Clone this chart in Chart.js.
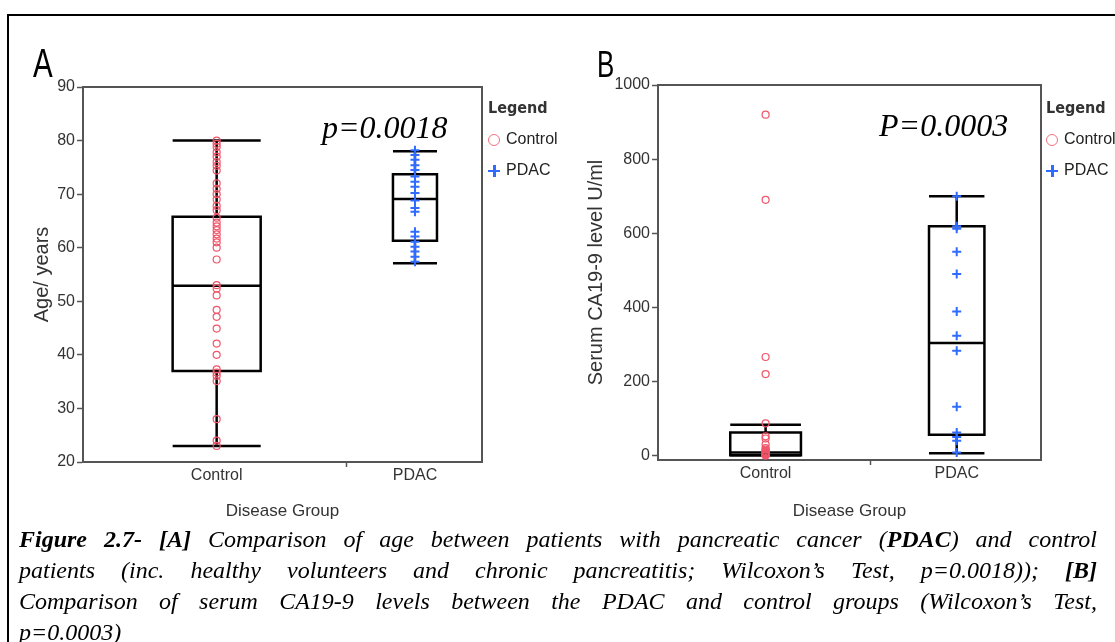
<!DOCTYPE html>
<html>
<head>
<meta charset="utf-8">
<title>Figure 2.7 - Age and serum CA19-9 by disease group</title>
<script src="https://cdn.jsdelivr.net/npm/chart.js@4.4.0/dist/chart.umd.min.js"></script>
<style>
  body { margin: 0; background: #fff; }
  #page { position: relative; width: 1115px; height: 642px; overflow: hidden; }
  #frame { position: absolute; left: 7px; top: 14px; width: 1200px; height: 700px;
           border-left: 2px solid #000; border-top: 2px solid #000; }
  canvas { position: absolute; }
  .letter { position: absolute; font-family: "Liberation Sans", Arial, sans-serif; line-height: 1;
            color: #000; transform-origin: left top; transform: scaleX(0.72); }
  .pval { position: absolute; font-family: "Liberation Serif", "Times New Roman", serif; font-style: italic;
          font-size: 32px; line-height: 32px; color: #000; white-space: nowrap; }
  .legend { position: absolute; font-family: "Liberation Sans", Arial, sans-serif; font-size: 16px;
            line-height: 31px; color: #222; white-space: nowrap; }
  .legend .head { font-family: "DejaVu Sans Condensed", "DejaVu Sans", sans-serif; font-weight: bold; color: #333; }
  .sym { display: inline-block; width: 12px; height: 12px; vertical-align: middle; margin-right: 6px; position: relative; }
  .sym.circle { box-sizing: border-box; border: 1.5px solid #f07080; border-radius: 50%; }
  .sym.plus::before, .sym.plus::after { content: ""; position: absolute; background: #2f6bff; }
  .sym.plus::before { left: 0; top: 5px; width: 12px; height: 2.5px; }
  .sym.plus::after { left: 5px; top: 0; width: 2.5px; height: 12px; }
  #caption { position: absolute; left: 19px; top: 524px; width: 1078px; font-family: "Liberation Serif", "Times New Roman", serif;
             font-style: italic; font-size: 24px; line-height: 31px; color: #000; }
  #caption div { text-align: justify; text-align-last: justify; white-space: nowrap; }
  #caption div.last { text-align-last: left; }
</style>
</head>
<body>
<div id="page">
  <div id="frame"></div>
  <canvas id="chartA" width="550" height="505" style="left:10px; top:20px;"></canvas>
  <canvas id="chartB" width="540" height="505" style="left:565px; top:20px;"></canvas>

  <div class="letter" style="left:33px; top:43px; font-size:41px;">A</div>
  <div class="letter" style="left:597px; top:47px; font-size:36px;">B</div>

  <div class="pval" style="left:322px; top:111px;">p=0.0018</div>
  <div class="pval" style="left:879px; top:109px;">P=0.0003</div>

  <div class="legend" style="left:488px; top:92px;">
    <div class="head">Legend</div>
    <div><span class="sym circle"></span>Control</div>
    <div><span class="sym plus"></span>PDAC</div>
  </div>
  <div class="legend" style="left:1046px; top:92px;">
    <div class="head">Legend</div>
    <div><span class="sym circle"></span>Control</div>
    <div><span class="sym plus"></span>PDAC</div>
  </div>

  <div id="caption">
    <div><b>Figure 2.7- [A]</b> Comparison of age between patients with pancreatic cancer (<b>PDAC</b>) and control</div>
    <div>patients (inc. healthy volunteers and chronic pancreatitis; Wilcoxon’s Test, p=0.0018)); <b>[B]</b></div>
    <div>Comparison of serum CA19-9 levels between the PDAC and control groups (Wilcoxon’s Test,</div>
    <div class="last">p=0.0003)</div>
  </div>
</div>

<script>
  // groups on the x axis
  var categories = ['Control', 'PDAC'];

  // panel A: age (years), individual patients
  var ageControl = [80, 79.4, 78.8, 77.8, 77, 76, 75.3, 74.4, 72, 71, 70, 69, 67.8, 67, 65.6, 64.7, 64, 63.3,
                    62.5, 61.7, 61, 60, 57.8, 53, 52.4, 51.1, 48.4, 47.1, 44.9, 42.1, 40, 37.3, 36.7, 36.1,
                    35.1, 28, 24, 23];
  var agePdac = [78.2, 77.3, 76.4, 75.4, 74.5, 73.3, 72.3, 71.4, 70.2, 68.8, 67.4, 66.7, 63, 62.1, 61.1,
                 60.2, 59.3, 58.3, 57.4];
  // box summaries: [min, q1, median, q3, max]
  var ageControlBox = [23, 37, 52.9, 65.8, 80];
  var agePdacBox = [57.1, 61.3, 69.1, 73.7, 78];
  var ageTicks = [20, 30, 40, 50, 60, 70, 80, 90];

  // panel B: serum CA19-9 (U/ml)
  var caControl = [920, 690, 266, 220, 87, 52, 46, 30, 20, 16, 12, 9, 7, 5, 4, 3, 2, 1, 0];
  var caPdac = [700, 619, 612, 550, 490, 389, 323, 283, 132, 62, 50, 40, 8];
  var caControlBox = [0, 1, 8, 62, 83];
  var caPdacBox = [6, 56, 304, 619, 700];
  var caTicks = [0, 200, 400, 600, 800, 1000];

  var sans = '"Liberation Sans", Arial, sans-serif';
  var axisGray = '#555';
  var redPt = 'rgb(240, 85, 105)';
  var bluePt = '#2f6bff';

  Chart.defaults.font.family = sans;
  Chart.defaults.color = '#333';

  function makeBoxPlugin(boxes, widths) {
    return {
      id: 'boxPlot',
      beforeDatasetsDraw: function(chart) {
        var ctx = chart.ctx, x = chart.scales.x, y = chart.scales.y;
        ctx.save();
        ctx.strokeStyle = '#000';
        ctx.lineWidth = 2.5;
        boxes.forEach(function(b, i) {
          var cx = x.getPixelForValue(i);
          var hw = Math.abs(x.getPixelForValue(i + widths[i] / 2) - cx);
          var lo = y.getPixelForValue(b[0]), q1 = y.getPixelForValue(b[1]), med = y.getPixelForValue(b[2]),
              q3 = y.getPixelForValue(b[3]), hi = y.getPixelForValue(b[4]);
          ctx.beginPath();
          ctx.moveTo(cx, hi); ctx.lineTo(cx, q3);
          ctx.moveTo(cx, q1); ctx.lineTo(cx, lo);
          ctx.moveTo(cx - hw, hi); ctx.lineTo(cx + hw, hi);
          ctx.moveTo(cx - hw, lo); ctx.lineTo(cx + hw, lo);
          ctx.moveTo(cx - hw, med); ctx.lineTo(cx + hw, med);
          ctx.rect(cx - hw, q3, 2 * hw, q1 - q3);
          ctx.stroke();
        });
        ctx.restore();
      },
      afterDraw: function(chart) {
        // top and right edge of the plot frame
        var a = chart.chartArea, ctx = chart.ctx;
        ctx.save();
        ctx.strokeStyle = axisGray;
        ctx.lineWidth = 2;
        ctx.beginPath();
        ctx.moveTo(a.left, a.top);
        ctx.lineTo(a.right, a.top);
        ctx.lineTo(a.right, a.bottom);
        ctx.stroke();
        ctx.restore();
      }
    };
  }

  function toPoints(values, idx) {
    return values.map(function(v) { return { x: idx, y: v }; });
  }

  function makePanel(id, cfg) {
    var xLabels = [categories[0], '', categories[1]];
    return new Chart(document.getElementById(id), {
      type: 'scatter',
      data: {
        datasets: [{
          label: categories[0],
          data: toPoints(cfg.control, 0),
          pointStyle: 'circle',
          pointRadius: 3.5,
          borderWidth: 1.2,
          borderColor: redPt,
          backgroundColor: 'rgba(0,0,0,0)',
          clip: false
        }, {
          label: categories[1],
          data: toPoints(cfg.pdac, 1),
          pointStyle: 'cross',
          pointRadius: 4.5,
          borderWidth: 2,
          borderColor: bluePt,
          backgroundColor: bluePt,
          clip: false
        }]
      },
      options: {
        responsive: false,
        animation: false,
        events: [],
        layout: { padding: { top: cfg.padTop, right: cfg.padRight, left: 0, bottom: 0 } },
        plugins: { legend: { display: false }, tooltip: { enabled: false } },
        scales: {
          x: {
            type: 'linear',
            min: cfg.xMin,
            max: cfg.xMax,
            afterBuildTicks: function(a) {
              a.ticks = [{ value: 0 }, { value: cfg.divider }, { value: 1 }];
            },
            afterFit: function(a) { a.height = cfg.xHeight; },
            border: { color: axisGray, width: 2 },
            grid: {
              drawOnChartArea: false,
              tickLength: 5,
              tickWidth: 1.5,
              tickColor: function(c) { return c.index === 1 ? axisGray : 'rgba(0,0,0,0)'; }
            },
            ticks: {
              autoSkip: false,
              maxRotation: 0,
              padding: -1,
              color: '#333',
              font: { size: 16 },
              callback: function(v, i) { return xLabels[i]; }
            },
            title: {
              display: true,
              text: 'Disease Group',
              color: '#333',
              font: { size: 17 },
              padding: { top: 0, bottom: 3 }
            }
          },
          y: {
            min: cfg.yMin,
            max: cfg.yMax,
            afterBuildTicks: function(a) {
              a.ticks = cfg.yTicks.map(function(v) { return { value: v }; });
            },
            afterFit: function(a) { a.width = cfg.yWidth; },
            border: { color: axisGray, width: 2 },
            grid: { drawOnChartArea: false, tickLength: 6, tickWidth: 1.5, tickColor: axisGray },
            ticks: {
              padding: 2,
              color: '#333',
              font: { size: 16 },
              callback: function(v) { return String(v); }
            },
            title: {
              display: true,
              text: cfg.yTitle,
              color: '#333',
              font: { size: 20 },
              padding: { top: cfg.yTitlePad, bottom: 0 }
            }
          }
        }
      },
      plugins: [makeBoxPlugin(cfg.boxes, cfg.widths)]
    });
  }

  makePanel('chartA', {
    control: ageControl, pdac: agePdac, boxes: [ageControlBox, agePdacBox], widths: [0.444, 0.222],
    yMin: 20, yMax: 90, yTicks: ageTicks, yTitle: 'Age/ years', yTitlePad: 20,
    xMin: -0.674, xMax: 1.338, divider: 0.656,
    padTop: 67, padRight: 78, yWidth: 73, xHeight: 63
  });

  makePanel('chartB', {
    control: caControl, pdac: caPdac, boxes: [caControlBox, caPdacBox], widths: [0.37, 0.29],
    yMin: -12, yMax: 1000, yTicks: caTicks, yTitle: 'Serum CA19-9 level U/ml', yTitlePad: 19,
    xMin: -0.563, xMax: 1.441, divider: 0.551,
    padTop: 65, padRight: 64, yWidth: 93, xHeight: 65
  });
</script>
</body>
</html>
